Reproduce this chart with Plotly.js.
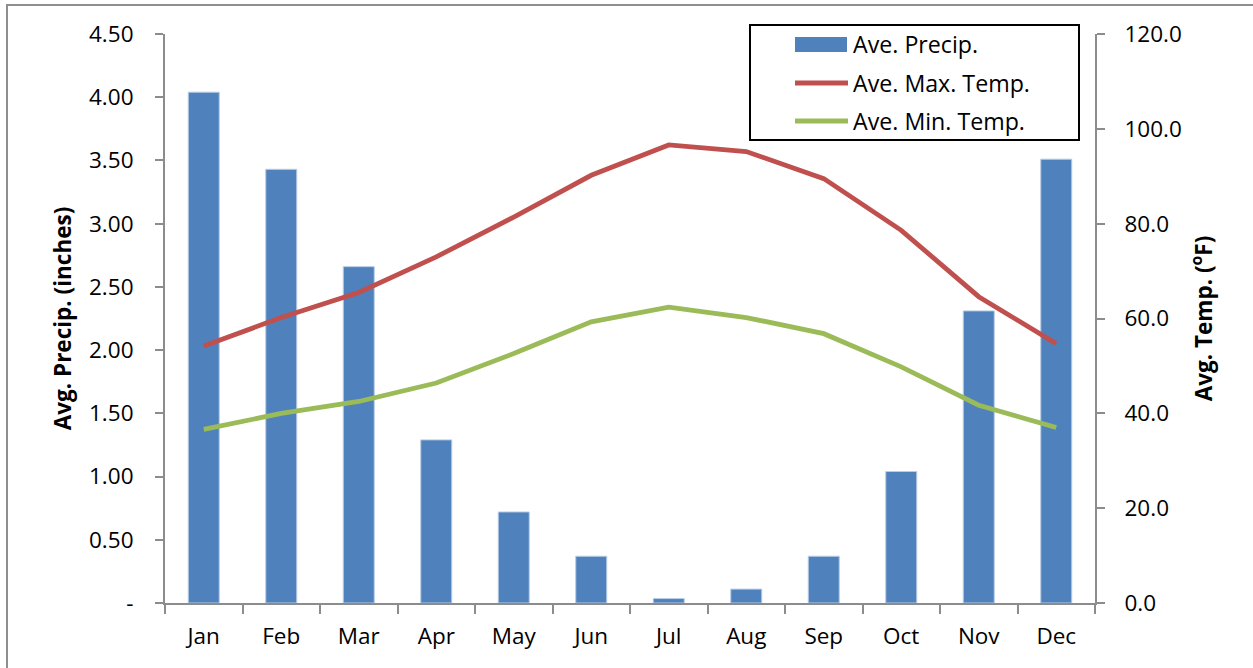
<!DOCTYPE html>
<html>
<head>
<meta charset="utf-8">
<script src="https://cdn.plot.ly/plotly-3.0.1.min.js"></script>
<style>
  html, body { margin: 0; padding: 0; background: #fff; }
  #chart { width: 1253px; height: 668px; }
</style>
</head>
<body>
<div id="chart"></div>
<script>
// Monthly climate normals
const months = ['Jan', 'Feb', 'Mar', 'Apr', 'May', 'Jun', 'Jul', 'Aug', 'Sep', 'Oct', 'Nov', 'Dec'];
const precip = [4.04, 3.43, 2.66, 1.29, 0.72, 0.37, 0.035, 0.11, 0.37, 1.04, 2.31, 3.51];
const maxTemp = [54.2, 60.2, 65.5, 73.0, 81.4, 90.2, 96.6, 95.2, 89.5, 78.6, 64.6, 54.7];
const minTemp = [36.6, 40.0, 42.5, 46.4, 52.6, 59.3, 62.4, 60.2, 56.8, 49.8, 41.7, 37.0];

const seriesNames = ['Ave. Precip.', 'Ave. Max. Temp.', 'Ave. Min. Temp.'];

// Left axis: accounting-style labels, zero shown as a dash
const precipTickVals = [0, 0.5, 1, 1.5, 2, 2.5, 3, 3.5, 4, 4.5];
const precipTickText = ['-', '0.50', '1.00', '1.50', '2.00', '2.50', '3.00', '3.50', '4.00', '4.50'];

const BLUE = '#4F81BD', RED = '#C0504D', GREEN = '#9BBB59', AXIS = '#8C8C8C';
const FONT = 'Open Sans, Noto Sans, Liberation Sans, sans-serif';
const TICK_SIZE = 22.5;

// Plot area in pixels, used to place the legend box and frame
const W = 1253, H = 668;
const M = {l: 165, r: W - 1095, t: 34, b: H - 603};
const pw = W - M.l - M.r, ph = H - M.t - M.b;
const px = x => (x - M.l) / pw;
const py = y => (H - M.b - y) / ph;

const traces = [
  {
    type: 'bar', x: months, y: precip, name: seriesNames[0],
    marker: {color: BLUE, line: {color: '#B9CDE5', width: 1}},
    showlegend: false, hoverinfo: 'x+y'
  },
  {
    type: 'scatter', mode: 'lines', x: months, y: maxTemp, name: seriesNames[1], yaxis: 'y2',
    line: {color: RED, width: 4.8}, showlegend: false
  },
  {
    type: 'scatter', mode: 'lines', x: months, y: minTemp, name: seriesNames[2], yaxis: 'y2',
    line: {color: GREEN, width: 4.8}, showlegend: false
  }
];

// Legend drawn as a framed box with swatches and labels
const legendRows = [44, 83, 121];
const shapes = [
  {type: 'rect', xref: 'paper', yref: 'paper', x0: px(7), x1: px(1262), y0: py(677), y1: py(5),
   line: {color: '#8F8F8F', width: 2}, fillcolor: 'rgba(0,0,0,0)', layer: 'below'},
  {type: 'rect', xref: 'paper', yref: 'paper', x0: px(750), x1: px(1079), y0: py(140), y1: py(25),
   line: {color: '#000', width: 2}, fillcolor: '#fff', layer: 'above'},
  {type: 'rect', xref: 'paper', yref: 'paper', x0: px(795), x1: px(847), y0: py(52), y1: py(37),
   line: {width: 0}, fillcolor: BLUE, layer: 'above'},
  {type: 'line', xref: 'paper', yref: 'paper', x0: px(795), x1: px(848), y0: py(legendRows[1]), y1: py(legendRows[1]),
   line: {color: RED, width: 4.8}, layer: 'above'},
  {type: 'line', xref: 'paper', yref: 'paper', x0: px(795), x1: px(848), y0: py(legendRows[2]), y1: py(legendRows[2]),
   line: {color: GREEN, width: 4.8}, layer: 'above'}
];
const annotations = seriesNames.map((name, i) => ({
  xref: 'paper', yref: 'paper', x: px(851), y: py(legendRows[i]),
  xanchor: 'left', yanchor: 'middle', showarrow: false, text: name,
  font: {family: FONT, size: 23.2, color: '#000'}
}));

const layout = {
  width: W, height: H,
  margin: M,
  paper_bgcolor: '#fff', plot_bgcolor: '#fff',
  font: {family: FONT, size: TICK_SIZE, color: '#000'},
  bargap: 0.6,
  showlegend: false,
  xaxis: {
    type: 'category', showgrid: false, zeroline: false,
    showline: true, linecolor: AXIS, linewidth: 2,
    ticks: 'outside', tickson: 'boundaries', ticklen: 9, tickcolor: AXIS, tickwidth: 2,
    ticklabelstandoff: 12,
    tickfont: {family: FONT, size: TICK_SIZE, color: '#000'},
    range: [-0.5, 11.5]
  },
  yaxis: {
    range: [0, 4.5], tickvals: precipTickVals, ticktext: precipTickText,
    showgrid: false, zeroline: false,
    showline: true, linecolor: AXIS, linewidth: 2,
    ticks: 'outside', ticklen: 8, tickcolor: AXIS, tickwidth: 2,
    ticklabelstandoff: 17,
    tickfont: {family: FONT, size: TICK_SIZE, color: '#000'},
    title: {text: 'Avg. Precip. (inches)', standoff: 11,
            font: {family: FONT, size: 22.5, color: '#000', weight: 'bold'}},
    automargin: false
  },
  yaxis2: {
    overlaying: 'y', side: 'right', range: [0, 120], dtick: 20, tick0: 0, tickformat: '.1f',
    showgrid: false, zeroline: false,
    showline: true, linecolor: AXIS, linewidth: 2,
    ticks: 'outside', ticklen: 8, tickcolor: AXIS, tickwidth: 2,
    ticklabelstandoff: 15,
    tickfont: {family: FONT, size: TICK_SIZE, color: '#000'},
    title: {text: 'Avg. Temp. (<sup>o</sup>F)', standoff: 15,
            font: {family: FONT, size: 22.5, color: '#000', weight: 'bold'}},
    automargin: false
  },
  shapes: shapes,
  annotations: annotations
};

Plotly.newPlot('chart', traces, layout, {displayModeBar: false, staticPlot: true});
</script>
</body>
</html>
